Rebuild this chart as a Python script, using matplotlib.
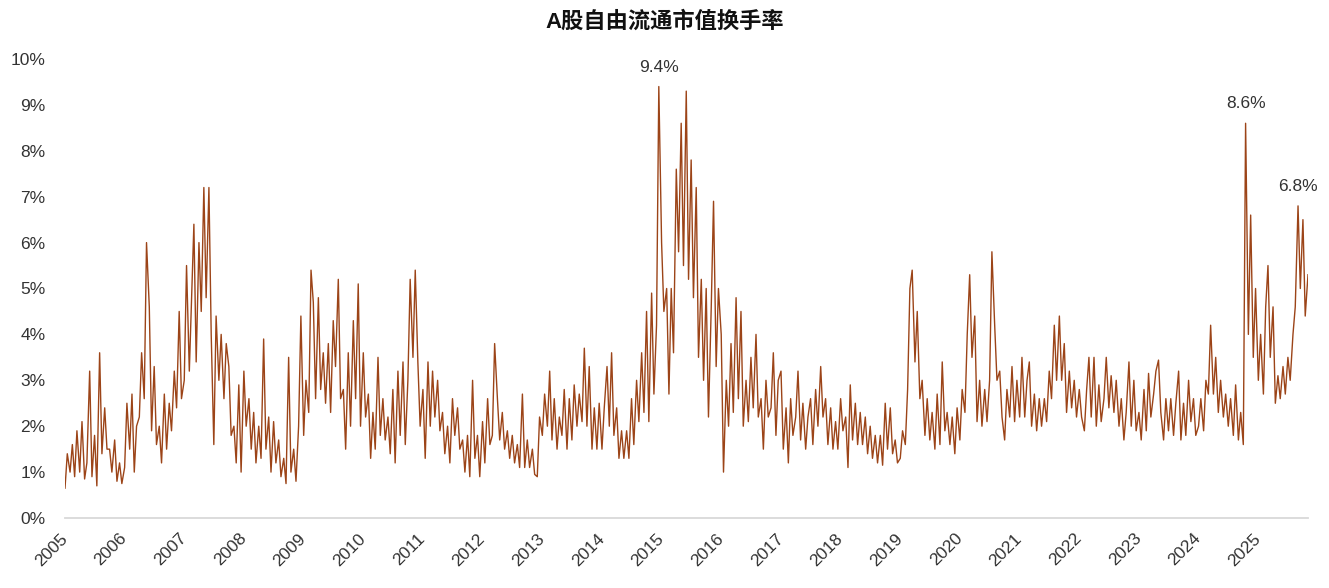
import numpy as np
import pandas as pd
import matplotlib
matplotlib.use("Agg")
import matplotlib.pyplot as plt
import matplotlib.dates as mdates
from matplotlib.ticker import FuncFormatter

plt.rcParams["font.family"] = ["Liberation Sans", "Noto Sans CJK SC", "DejaVu Sans"]

turnover_2005 = [0.65, 1.4, 1.0, 1.6, 0.9, 1.9, 1.0, 2.1, 0.85, 1.2, 3.2, 0.9,
                 1.8, 0.7, 3.6, 1.4, 2.4, 1.5, 1.5, 1.0, 1.7, 0.8, 1.2, 0.75]
turnover_2006 = [1.1, 2.5, 1.5, 2.7, 1.0, 2.0, 2.2, 3.6, 2.6, 6.0, 4.6, 1.9,
                 3.3, 1.6, 2.0, 1.2, 2.7, 1.5, 2.5, 1.9, 3.2, 2.4, 4.5, 2.6]
turnover_2007 = [3.0, 5.5, 3.2, 4.8, 6.4, 3.4, 6.0, 4.5, 7.2, 4.8, 7.2, 4.0,
                 1.6, 4.4, 3.0, 4.0, 2.6, 3.8, 3.3, 1.8, 2.0, 1.2, 2.9, 1.0]
turnover_2008 = [3.2, 2.0, 2.6, 1.5, 2.3, 1.2, 2.0, 1.3, 3.9, 1.5, 2.2, 1.0,
                 2.1, 1.2, 1.7, 0.9, 1.3, 0.75, 3.5, 1.0, 1.5, 0.8, 2.0, 4.4]
turnover_2009 = [1.8, 3.0, 2.3, 5.4, 4.7, 2.6, 4.8, 2.8, 3.6, 2.5, 3.8, 2.3,
                 4.3, 3.3, 5.2, 2.6, 2.8, 1.5, 3.6, 2.0, 4.3, 2.6, 5.1, 2.0]
turnover_2010 = [3.6, 2.2, 2.7, 1.3, 2.3, 1.5, 3.5, 1.8, 2.6, 1.7, 2.2, 1.4,
                 2.8, 1.2, 3.2, 1.8, 3.4, 1.6, 3.0, 5.2, 3.5, 5.4, 3.4, 2.0]
turnover_2011 = [2.8, 1.3, 3.4, 2.0, 3.2, 2.2, 3.0, 1.9, 2.3, 1.4, 2.0, 1.2,
                 2.6, 1.8, 2.4, 1.5, 1.7, 1.0, 1.8, 0.9, 3.0, 1.3, 1.8, 0.9]
turnover_2012 = [2.1, 1.2, 2.6, 1.6, 1.8, 3.8, 2.6, 1.7, 2.3, 1.5, 1.9, 1.3,
                 1.8, 1.2, 1.6, 1.1, 2.7, 1.1, 1.7, 1.1, 1.5, 0.95, 0.9, 2.2]
turnover_2013 = [1.8, 2.7, 2.0, 3.2, 1.7, 2.6, 1.5, 2.2, 1.8, 2.8, 1.5, 2.6,
                 1.7, 2.9, 2.0, 2.7, 2.1, 3.7, 2.0, 3.3, 1.5, 2.4, 1.5, 2.5]
turnover_2014 = [1.5, 2.4, 3.3, 2.0, 3.6, 1.8, 2.4, 1.3, 1.9, 1.3, 1.9, 1.3,
                 2.6, 1.6, 3.0, 2.1, 3.6, 2.3, 4.5, 2.1, 4.9, 2.7, 4.2, 9.4]
turnover_2015 = [6.0, 4.5, 5.0, 2.7, 5.0, 3.6, 7.6, 5.8, 8.6, 5.5, 9.3, 5.2,
                 7.8, 4.8, 7.2, 3.5, 5.2, 3.0, 5.0, 2.2, 4.6, 6.9, 3.3, 5.0]
turnover_2016 = [4.0, 1.0, 3.0, 2.0, 3.8, 2.3, 4.8, 2.6, 4.5, 2.0, 3.0, 2.1,
                 3.5, 2.4, 4.0, 2.2, 2.6, 1.5, 3.0, 2.2, 2.4, 3.6, 1.8, 3.0]
turnover_2017 = [3.2, 1.5, 2.4, 1.2, 2.6, 1.8, 2.2, 3.2, 1.7, 2.5, 1.5, 2.2,
                 2.6, 1.6, 2.8, 2.0, 3.3, 2.2, 2.6, 1.6, 2.4, 1.5, 2.1, 1.5]
turnover_2018 = [2.6, 1.9, 2.2, 1.1, 2.9, 1.7, 2.5, 1.6, 2.3, 1.6, 2.2, 1.4,
                 2.0, 1.3, 1.8, 1.2, 1.8, 1.15, 2.5, 1.5, 2.4, 1.4, 1.7, 1.2]
turnover_2019 = [1.3, 1.9, 1.6, 2.8, 5.0, 5.4, 3.4, 4.5, 2.6, 3.0, 1.8, 2.6,
                 1.7, 2.3, 1.5, 2.7, 1.6, 3.4, 1.9, 2.3, 1.6, 2.2, 1.4, 2.4]
turnover_2020 = [1.7, 2.8, 2.3, 4.0, 5.3, 3.5, 4.4, 2.1, 3.0, 2.0, 2.8, 2.1,
                 3.0, 5.8, 4.2, 3.0, 3.2, 2.2, 1.7, 2.8, 2.2, 3.3, 2.1, 3.0]
turnover_2021 = [2.2, 3.5, 2.2, 3.0, 3.4, 2.0, 2.7, 1.9, 2.6, 2.0, 2.6, 2.1,
                 3.2, 2.6, 4.2, 3.0, 4.4, 3.0, 3.8, 2.3, 3.2, 2.4, 3.0, 2.2]
turnover_2022 = [2.8, 2.2, 1.9, 2.8, 3.5, 2.2, 3.5, 2.0, 2.9, 2.1, 2.6, 3.5,
                 2.4, 3.1, 2.3, 3.0, 2.0, 2.6, 1.7, 2.3, 3.4, 2.0, 3.0, 1.9]
turnover_2023 = [2.3, 1.7, 2.8, 1.9, 3.15, 2.2, 2.7, 3.2, 3.44, 2.3, 1.7, 2.6,
                 1.9, 2.6, 1.8, 2.5, 3.2, 1.7, 2.5, 1.8, 3.0, 2.1, 2.6, 1.8]
turnover_2024 = [2.0, 2.6, 1.9, 3.0, 2.7, 4.2, 2.7, 3.5, 2.3, 3.0, 2.2, 2.7,
                 2.0, 2.6, 1.8, 2.9, 1.7, 2.3, 1.6, 8.6, 4.0, 6.6, 3.5, 5.0]
turnover_2025 = [3.0, 4.0, 2.7, 4.6, 5.5, 3.5, 4.6, 2.5, 3.1, 2.6, 3.3, 2.7,
                 3.5, 3.0, 4.0, 4.6, 6.8, 5.0, 6.5, 4.4, 5.3]

# windows whose maximum gets a value label
peak_windows = [("2014-11-01", "2015-01-31"),
                ("2024-09-01", "2024-11-30"),
                ("2025-08-01", "2025-10-31")]

values = np.concatenate([
    turnover_2005, turnover_2006, turnover_2007, turnover_2008, turnover_2009,
    turnover_2010, turnover_2011, turnover_2012, turnover_2013, turnover_2014,
    turnover_2015, turnover_2016, turnover_2017, turnover_2018, turnover_2019,
    turnover_2020, turnover_2021, turnover_2022, turnover_2023, turnover_2024,
    turnover_2025,
])
dates = pd.date_range("2005-01-01", periods=len(values), freq="SMS")
s = pd.Series(values, index=dates)

W, H = 1329, 588
fig = plt.figure(figsize=(W / 100, H / 100), dpi=100)
ax = fig.add_axes([65 / W, 1 - 518 / H, (1308 - 65) / W, (518 - 59) / H])

ax.plot(s.index, s.values, color="#9C4418", lw=1.0)

ax.set_ylim(0, 10)
ax.set_yticks(range(0, 11))
ax.yaxis.set_major_formatter(FuncFormatter(lambda v, p: f"{int(v)}%"))
ax.set_xlim(pd.Timestamp("2005-01-01"), pd.Timestamp("2025-11-01"))
ax.xaxis.set_major_locator(mdates.YearLocator())
ax.xaxis.set_major_formatter(mdates.DateFormatter("%Y"))

for side in ["top", "right", "left"]:
    ax.spines[side].set_visible(False)
ax.spines["bottom"].set_color("#D9D9D9")
ax.spines["bottom"].set_linewidth(1.3)
ax.tick_params(axis="both", length=0, labelsize=12.5, labelcolor="#333333")
ax.tick_params(axis="y", pad=14)
ax.tick_params(axis="x", pad=13)
for lbl in ax.get_xticklabels():
    lbl.set_rotation(45)
    lbl.set_ha("right")
    lbl.set_va("center")
    lbl.set_rotation_mode("anchor")

for start, end in peak_windows:
    w = s[start:end]
    ax.annotate(f"{w.max():.1f}%", (w.idxmax(), w.max()), xytext=(0, 14),
                textcoords="offset points", ha="center", va="center",
                fontsize=12.5, color="#333333", annotation_clip=False)

fig.suptitle("A股自由流通市值换手率", x=0.5, y=1 - 22 / H, va="center",
             fontsize=16, fontweight="bold", color="#111111")

fig.savefig("out.png", dpi=100)
